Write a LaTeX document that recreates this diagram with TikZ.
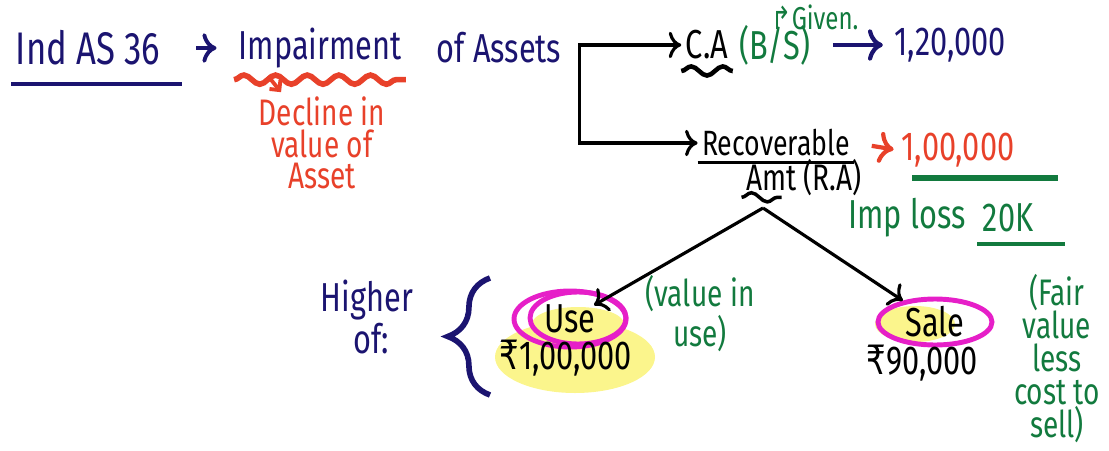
\documentclass[tikz,border=0pt]{standalone}
\usepackage{fontspec}
\setmainfont{Fira Sans}[FakeStretch=0.76]
\newfontfamily\symfont{DejaVu Sans}[FakeStretch=0.76]
\usepackage{tikz}
\usetikzlibrary{arrows.meta,shapes.geometric,positioning,decorations.pathmorphing,decorations.pathreplacing}

\definecolor{inknavy}{HTML}{1B1470}
\definecolor{inkred}{HTML}{E8412A}
\definecolor{inkgreen}{HTML}{127A3E}
\definecolor{inkpink}{HTML}{E61FC8}
\definecolor{hiyellow}{HTML}{FBF58C}

\newcommand{\rupee}{{\symfont\char"20B9}}

\begin{document}
\begin{tikzpicture}
          [->,semithick,font=\fontsize{11.5}{11}\selectfont]
          \tikzstyle{every node}=[inner sep=1pt]
          \tikzstyle{navytext}=[text=inknavy]
          \tikzstyle{redtext}=[text=inkred]
          \tikzstyle{greentext}=[text=inkgreen]
          \tikzstyle{small}=[font=\fontsize{10.5}{9}\selectfont]
          \tikzstyle{wavy}=[-,thick,decorate,decoration={snake,amplitude=1.3pt,segment length=9pt}]
          \tikzstyle{loop}=[ellipse,draw=inkpink,line width=1.4pt,inner sep=0pt]
          \useasboundingbox (0,0) rectangle (11.09,4.50);

          % yellow highlights
          \fill[hiyellow] (5.75,0.93) ellipse [x radius=0.80,y radius=0.36];
          \fill[hiyellow] (5.78,1.26) ellipse [x radius=0.46,y radius=0.17];
          \fill[hiyellow] (9.15,1.26) ellipse [x radius=0.40,y radius=0.18];

          % top line
          \node[navytext,font=\fontsize{13}{13}\selectfont] (ind) at (0.88,4.02) {Ind AS 36};
          \node[navytext] (imp) at (3.20,4.02) {Impairment};
          \node[navytext] (ofa) at (4.99,4.02) {of Assets};
          \node[redtext,small,align=center] (decl) at (3.22,3.07) {Decline in\\value of\\Asset};
          \coordinate (impU) at (2.68,3.74);

          % carrying amount and recoverable amount
          \node (ca) at (7.07,4.05) {C.A};
          \node[greentext] (bs) at (7.75,4.05) {(B/S)};
          \node[greentext,font=\fontsize{9}{9}\selectfont] (given) at (8.15,4.33) {{\symfont ↱}Given.};
          \node[navytext] (val1) at (9.50,4.05) {1,20,000};
          \node[font=\fontsize{10}{9}\selectfont] (rec) at (7.76,3.07) {Recoverable};
          \node[small] (amt) at (8.04,2.72) {Amt (R.A)};
          \node[redtext] (val2) at (9.58,3.00) {1,00,000};
          \node[greentext] (imploss) at (9.07,2.32) {Imp loss};
          \node[greentext] (twenty) at (10.08,2.32) {20K};
          \coordinate (apex) at (7.63,2.42);

          % higher of
          \node[navytext,align=center] (higher) at (3.67,1.33) {Higher\\\ of:};
          \node[loop,minimum width=1.12cm,minimum height=0.56cm] (use) at (5.70,1.31) {Use};
          \draw[-,draw=inkpink,line width=1.4pt] (5.78,1.32) ellipse [x radius=0.48,y radius=0.26];
          \node (uval) at (5.66,0.92) {\rupee1,00,000};
          \node[greentext,small,align=center] (vin) at (7.00,1.36) {(value in\\use)};
          \node[loop,minimum width=1.14cm,minimum height=0.46cm] (sale) at (9.35,1.28) {Sale};
          \node (sval) at (9.22,0.87) {\rupee90,000};
          \node[greentext,align=center,font=\fontsize{10.5}{9.4}\selectfont] (fv) at (10.57,0.91) {(Fair\\value\\less\\cost to\\sell)};

          % underlines
          \draw[-,inknavy,line width=1.3pt] ([yshift=-4pt]ind.south west) -- ([xshift=5pt,yshift=-4pt]ind.south east);
          \draw[wavy,inkred,line width=1.6pt] ([yshift=-2pt]imp.south west) -- ([yshift=-2pt]imp.south east);
          \draw[wavy,line width=1.3pt] ([yshift=-2pt]ca.south west) -- ([yshift=-2pt]ca.south east);
          \draw[-,line width=1pt] ([yshift=-0.5pt]rec.south west) -- ([yshift=-0.5pt]rec.south east);
          \draw[wavy,line width=1pt] ([yshift=1pt]amt.south west) -- ++(0.40,0);
          \draw[-,inkgreen,line width=1.6pt] (9.12,2.72) -- (10.58,2.72);
          \draw[-,inkgreen,line width=1pt] (9.77,2.06) -- (10.65,2.06);
          \draw[-,decorate,decoration={brace,amplitude=12pt},inknavy,line width=1.6pt] (4.90,0.55) -- (4.90,1.72);

          % connectors
          \path[line width=1.1pt]
          (ind) edge[inknavy,shorten <=9pt,shorten >=5pt] (imp)
          (impU) edge[inkred,-{Straight Barb[length=2pt]}] (decl)
          ;
          \draw[<->,line width=0.9pt] (ca.west) -- ++(-1.02,0) |- (rec.west);
          \draw[inknavy,line width=1.2pt,shorten <=5pt,shorten >=2pt] (bs) -- (val1);
          \draw[inkred,line width=1.2pt,shorten <=5pt,shorten >=1pt] (rec.east) -- (val2.west);
          \draw[line width=0.9pt,shorten >=-5pt] (apex) -- (use);
          \draw[line width=0.9pt] (apex) -- (sale);
\end{tikzpicture}
\end{document}
